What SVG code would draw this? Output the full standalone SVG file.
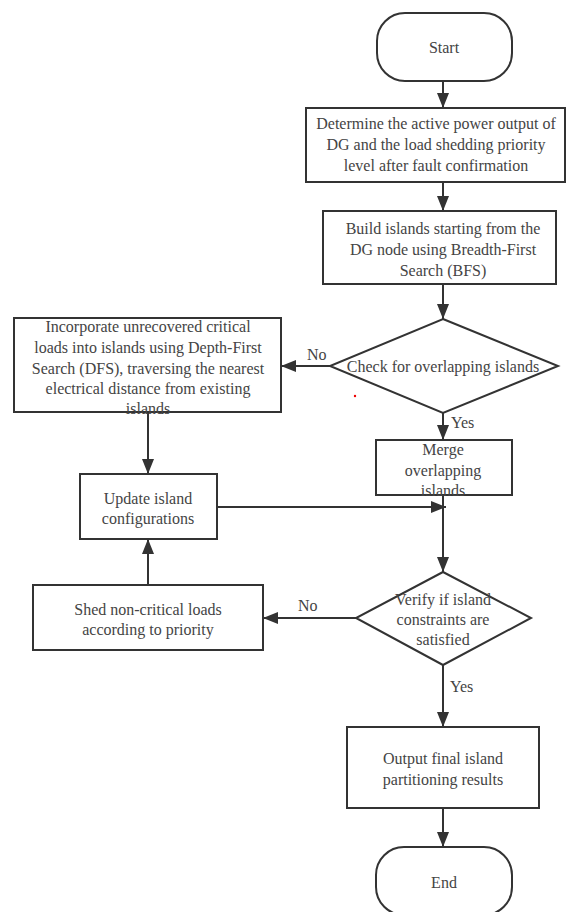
<svg xmlns="http://www.w3.org/2000/svg" width="568" height="912" viewBox="0 0 568 912">
<defs>
<marker id="arr" markerUnits="userSpaceOnUse" markerWidth="15" markerHeight="12" refX="15" refY="6" orient="auto">
<path d="M0,0 L15,6 L0,12 z" fill="#333"/>
</marker>
<style>
.s{fill:#fff;stroke:#333;stroke-width:2}
.t{font-family:"Liberation Serif","Times New Roman",serif;font-size:16px;fill:#444;text-anchor:middle}
.l{font-family:"Liberation Serif","Times New Roman",serif;font-size:16px;fill:#444}
.c{fill:none;stroke:#333;stroke-width:2;marker-end:url(#arr)}
</style>
</defs>
<rect width="568" height="912" fill="#fff"/>
<g id="connectors">
<line class="c" x1="443" y1="81" x2="443" y2="108"/>
<line class="c" x1="443" y1="182" x2="443" y2="211"/>
<line class="c" x1="443" y1="284" x2="443" y2="319"/>
<line class="c" x1="330" y1="366" x2="281" y2="366"/>
<line class="c" x1="443" y1="413" x2="443" y2="440"/>
<line class="c" x1="148" y1="412" x2="148" y2="474"/>
<line class="c" x1="217" y1="507" x2="446" y2="507"/>
<line class="c" x1="443" y1="495" x2="443" y2="572"/>
<line class="c" x1="356" y1="618" x2="263" y2="618"/>
<line class="c" x1="148" y1="585" x2="148" y2="539"/>
<line class="c" x1="443" y1="665" x2="443" y2="727"/>
<line class="c" x1="443" y1="808" x2="443" y2="847"/>
<text class="l" x="307" y="360">No</text>
<text class="l" x="451" y="428">Yes</text>
<text class="l" x="298" y="611">No</text>
<text class="l" x="450" y="692">Yes</text>
</g>
<g id="start">
<rect class="s" x="377" y="13" width="135" height="68" rx="28" ry="28"/>
<text class="t" x="444" y="53">Start</text>
</g>
<g id="determine">
<rect class="s" x="306" y="108" width="259" height="74"/>
<text class="t" x="436" y="129">Determine the active power output of</text>
<text class="t" x="436" y="150">DG and the load shedding priority</text>
<text class="t" x="436" y="171">level after fault confirmation</text>
</g>
<g id="build">
<rect class="s" x="323" y="211" width="233" height="73"/>
<text class="t" x="443" y="234">Build islands starting from the</text>
<text class="t" x="443" y="255">DG node using Breadth-First</text>
<text class="t" x="443" y="276">Search (BFS)</text>
</g>
<g id="check">
<polygon class="s" points="443,319 558,366 443,413 330,366"/>
<text class="t" x="443" y="372">Check for overlapping islands</text>
</g>
<g id="incorporate">
<rect class="s" x="14" y="318" width="267" height="94"/>
<text class="t" x="148" y="332">Incorporate unrecovered critical</text>
<text class="t" x="148" y="353">loads into islands using Depth-First</text>
<text class="t" x="148" y="374">Search (DFS), traversing the nearest</text>
<text class="t" x="148" y="394">electrical distance from existing</text>
<text class="t" x="148" y="414">islands</text>
</g>
<g id="merge">
<rect class="s" x="376" y="440" width="136" height="55"/>
<text class="t" x="443" y="455">Merge</text>
<text class="t" x="443" y="476">overlapping</text>
<text class="t" x="443" y="496">islands</text>
</g>
<g id="update">
<rect class="s" x="80" y="474" width="137" height="65"/>
<text class="t" x="148" y="504">Update island</text>
<text class="t" x="148" y="524">configurations</text>
</g>
<g id="verify">
<polygon class="s" points="443,572 531,618 443,665 356,618"/>
<text class="t" x="443" y="605">Verify if island</text>
<text class="t" x="443" y="625">constraints are</text>
<text class="t" x="443" y="645">satisfied</text>
</g>
<g id="shed">
<rect class="s" x="33" y="585" width="230" height="65"/>
<text class="t" x="148" y="615">Shed non-critical loads</text>
<text class="t" x="148" y="635">according to priority</text>
</g>
<g id="output">
<rect class="s" x="347" y="727" width="192" height="81"/>
<text class="t" x="443" y="764">Output final island</text>
<text class="t" x="443" y="785">partitioning results</text>
</g>
<g id="end">
<rect class="s" x="376" y="847" width="136" height="68" rx="28" ry="28"/>
<text class="t" x="444" y="888">End</text>
</g>
<circle cx="355" cy="396" r="1.2" fill="#e00"/>
</svg>
